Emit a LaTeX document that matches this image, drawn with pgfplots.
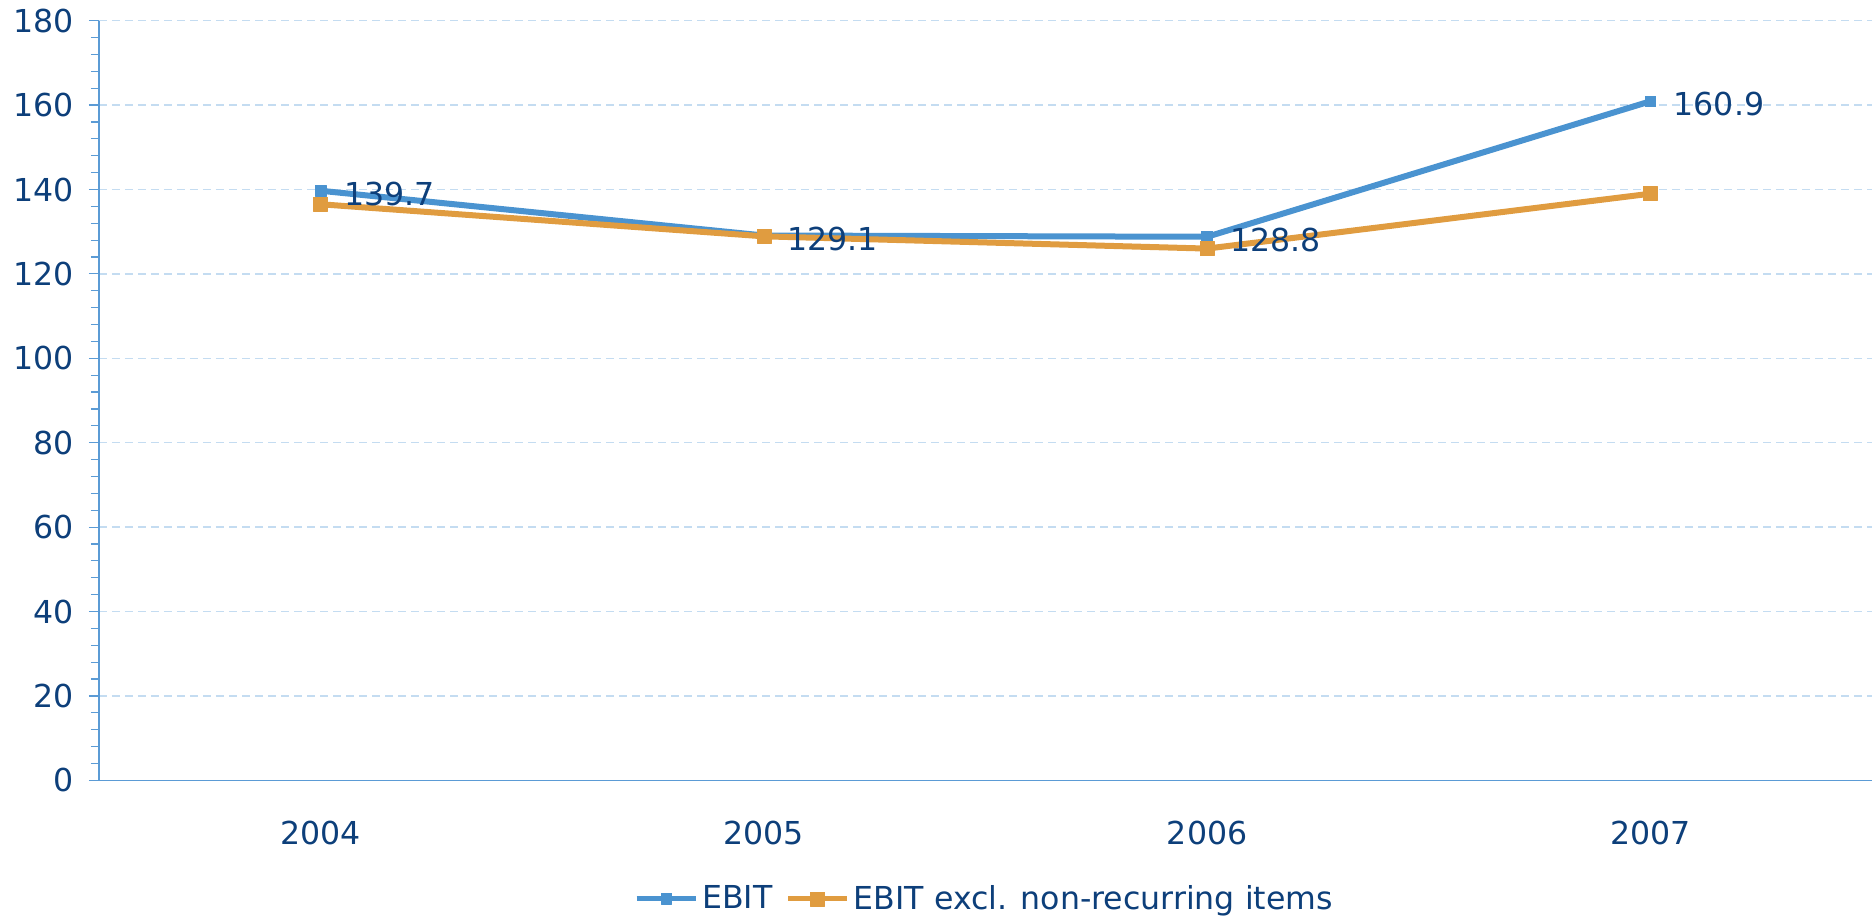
\documentclass[border=0pt]{standalone}
\usepackage{fontspec}
\setmainfont{DejaVu Sans}
\usepackage{pgfplots}
\pgfplotsset{compat=1.18}
\definecolor{txt}{HTML}{0D3F7A}
\definecolor{axc}{HTML}{5B9BD5}
\definecolor{gridc}{HTML}{C4DCF1}
\definecolor{ser1}{HTML}{4A93D0}
\definecolor{ser2}{HTML}{E09C40}
\newcommand{\lblfont}{\fontsize{15.8}{18}\selectfont}
\begin{document}
\begin{tikzpicture}
\useasboundingbox (-49.5pt,-69.85pt) rectangle (886.5pt,390.15pt);
\begin{axis}[
  scale only axis, width=886.5pt, height=379.8pt,
  xmin=-0.5, xmax=3.5, ymin=0, ymax=180,
  xtick={0,1,2,3}, xticklabels={2004,2005,2006,2007},
  ytick={0,20,...,180}, minor y tick num=4,
  axis lines=left,
  axis line style={draw=axc, line width=0.7pt, -},
  ymajorgrids,
  major grid style={draw=gridc, dash pattern=on 4pt off 2.5pt, line width=0.7pt},
  tick align=outside,
  major tick length=5pt, minor tick length=4pt,
  tick style={draw=axc, line width=0.6pt},
  major x tick style={draw=none},
  ticklabel style={font=\lblfont, text=txt},
  /pgf/number format/assume math mode=true,
  yticklabel style={anchor=east, inner sep=0pt, xshift=-7.5pt},
  xticklabel style={anchor=north, inner sep=0pt, yshift=-15pt},
  legend style={at={(0.5,-0.156)}, anchor=center, draw=none, legend columns=2,
    font=\lblfont, text=txt, inner sep=0pt,
    /tikz/every even column/.append style={column sep=4.5pt},
    nodes={inner sep=2pt}},
  legend image code/.code={
    \draw[#1, mark repeat=2, mark phase=2, line width=2.6pt] plot coordinates {(0pt,0pt) (14.75pt,0pt) (29.5pt,0pt)};
  },
  line join=round,
]
\addplot[ser1, line width=3pt, mark=square*, mark size=2.7pt, mark options={line width=0.3pt}]
  coordinates {(0,139.7) (1,129.1) (2,128.8) (3,160.9)};
\addlegendentry{EBIT}
\addplot[ser2, line width=3pt, mark=square*, mark size=3.5pt, mark options={line width=0.3pt}]
  coordinates {(0,136.5) (1,128.9) (2,126.0) (3,139.0)};
\addlegendentry{EBIT excl. non-recurring items}
\addplot[draw=none, forget plot, nodes near coords, point meta=explicit symbolic,
  nodes near coords style={anchor=west, inner sep=0pt, xshift=11.5pt, yshift=-1.5pt, font=\lblfont, text=txt}]
  coordinates {(0,139.7)[139.7] (1,129.1)[129.1] (2,128.8)[128.8] (3,160.9)[160.9]};
\end{axis}
\end{tikzpicture}
\end{document}
